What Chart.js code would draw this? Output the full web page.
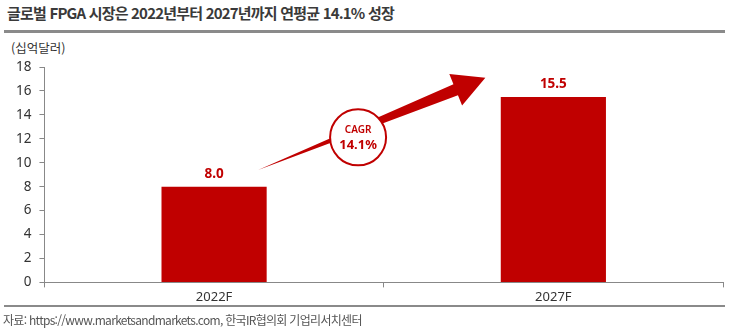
<!DOCTYPE html>
<html lang="ko">
<head>
<meta charset="utf-8">
<script src="https://cdn.jsdelivr.net/npm/chart.js@4"></script>
<style>
  html, body { margin: 0; padding: 0; background: #fff; }
  body { width: 730px; height: 334px; position: relative; overflow: hidden; font-family: "Noto Sans CJK KR", "Noto Sans", sans-serif; }
  #chart { position: absolute; left: 0; top: 0; }
  .title { position: absolute; left: 7px; top: 2px; font-size: 15px; font-weight: 700; color: #3a3a3a; letter-spacing: -0.8px; }
  .rule { position: absolute; left: 4px; width: 721px; background: #8a8a8a; }
  .unit { position: absolute; left: 11px; top: 38px; font-size: 12.5px; color: #333; }
  .source { position: absolute; left: 3px; top: 311px; font-size: 12px; color: #555; letter-spacing: -0.7px; }
</style>
</head>
<body>
<div class="title">글로벌 FPGA 시장은 2022년부터 2027년까지 연평균 14.1% 성장</div>
<div class="rule" style="top:30px;height:3px;"></div>
<div class="unit">(십억달러)</div>
<canvas id="chart" width="730" height="334"></canvas>
<div class="rule" style="top:305px;height:2px;"></div>
<div class="source">자료: https://www.marketsandmarkets.com, 한국IR협의회 기업리서치센터</div>
<script>
// 데이터
const categories = ['2022F', '2027F'];
const marketSize = [8.0, 15.5];
const yTicks = [0, 2, 4, 6, 8, 10, 12, 14, 16, 18];
const cagrText = ['CAGR', '14.1%'];

const RED = '#c00000';

// 막대 위 값 표시
const valueLabels = {
    id: 'valueLabels',
    afterDatasetsDraw(chart) {
        const { ctx } = chart;
        const meta = chart.getDatasetMeta(0);
        ctx.save();
        ctx.fillStyle = RED;
        ctx.font = 'bold 13.5px "Noto Sans", sans-serif';
        ctx.textAlign = 'center';
        ctx.textBaseline = 'bottom';
        meta.data.forEach((bar, i) => {
            ctx.fillText(marketSize[i].toFixed(1), bar.x, bar.y - 6);
        });
        ctx.restore();
    }
};

// CAGR 화살표와 원
const cagrArrow = {
    id: 'cagrArrow',
    afterDatasetsDraw(chart) {
        const { ctx, scales: { x, y } } = chart;
        const x0 = x.getPixelForValue(0), x1 = x.getPixelForValue(1);
        const tail = { x: x0 + 44, y: y.getPixelForValue(9.4) };
        const tip = { x: x1 - 68, y: y.getPixelForValue(17.1) };
        const dx = tip.x - tail.x, dy = tip.y - tail.y;
        const len = Math.hypot(dx, dy);
        const ux = dx / len, uy = dy / len;
        const nx = -uy, ny = ux;
        const headLen = 32, headW = 17, shaftW = 6;
        const base = { x: tip.x - ux * headLen, y: tip.y - uy * headLen };

        ctx.save();
        ctx.fillStyle = RED;
        ctx.beginPath();
        ctx.moveTo(tail.x, tail.y);
        ctx.lineTo(base.x + nx * shaftW, base.y + ny * shaftW);
        ctx.lineTo(base.x + nx * headW, base.y + ny * headW);
        ctx.lineTo(tip.x, tip.y);
        ctx.lineTo(base.x - nx * headW, base.y - ny * headW);
        ctx.lineTo(base.x - nx * shaftW, base.y - ny * shaftW);
        ctx.closePath();
        ctx.fill();

        // 원
        const t = 0.44;
        const cx = tail.x + dx * t, cy = tail.y + dy * t + 8;
        ctx.beginPath();
        ctx.arc(cx, cy, 28, 0, Math.PI * 2);
        ctx.fillStyle = '#fff';
        ctx.fill();
        ctx.lineWidth = 2;
        ctx.strokeStyle = RED;
        ctx.stroke();

        ctx.fillStyle = RED;
        ctx.textAlign = 'center';
        ctx.textBaseline = 'middle';
        ctx.font = '600 10px "Noto Sans", sans-serif';
        ctx.fillText(cagrText[0], cx, cy - 7);
        ctx.font = 'bold 13px "Noto Sans", sans-serif';
        ctx.fillText(cagrText[1], cx, cy + 8);
        ctx.restore();
    }
};

const ctx = document.getElementById('chart').getContext('2d');
new Chart(ctx, {
    type: 'bar',
    data: {
        labels: categories,
        datasets: [{
            data: marketSize,
            backgroundColor: RED,
            borderWidth: 0,
            barPercentage: 0.62,
            categoryPercentage: 0.5,
        }],
    },
    options: {
        responsive: false,
        animation: false,
        devicePixelRatio: 1,
        layout: { padding: { top: 67, left: 8, right: 7, bottom: 27 } },
        plugins: {
            legend: { display: false },
            tooltip: { enabled: false },
        },
        scales: {
            x: {
                grid: {
                    display: true,
                    offset: true,
                    drawOnChartArea: false,
                    drawTicks: true,
                    tickLength: 5,
                    color: '#888',
                },
                border: { display: true, color: '#888', width: 1 },
                ticks: {
                    color: '#333',
                    font: { size: 13, family: '"Noto Sans", sans-serif' },
                    padding: 2,
                },
            },
            y: {
                min: 0,
                max: 18,
                afterBuildTicks(axis) {
                    axis.ticks = yTicks.map(v => ({ value: v }));
                },
                grid: {
                    display: true,
                    drawOnChartArea: false,
                    drawTicks: true,
                    tickLength: 5,
                    color: '#888',
                },
                border: { display: true, color: '#888', width: 1 },
                ticks: {
                    color: '#333',
                    font: { size: 13.5, family: '"Noto Sans", sans-serif' },
                    padding: 8,
                },
            },
        },
    },
    plugins: [valueLabels, cagrArrow],
});
</script>
</body>
</html>
